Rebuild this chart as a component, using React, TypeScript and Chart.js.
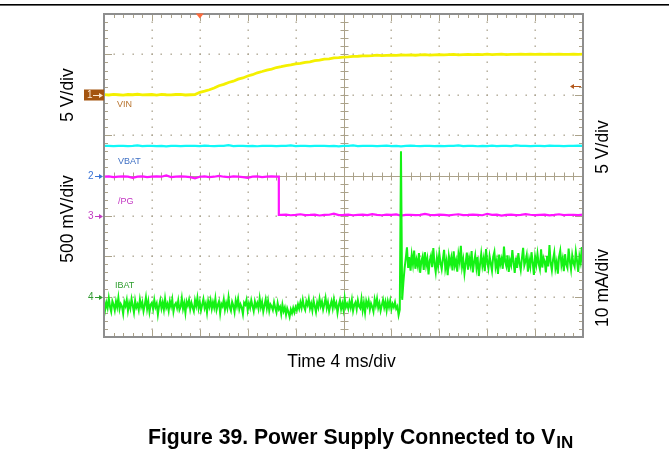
import { useEffect, useRef } from "react";
import { Chart, registerables } from "chart.js";

Chart.register(...registerables);

// ---- Time base: 4 ms/div, 10 divisions, trigger at 2nd division ----
const TIME_MIN_MS = -8;
const TIME_MAX_MS = 32;
const X_DIVS = 10;
const Y_DIVS = 8;

// ---- Channel settings (graticule offset in divisions, units per division) ----
const CH_VIN = { offsetDiv: 6, perDiv: 5 }; // 5 V/div
const CH_VBAT = { offsetDiv: 4, perDiv: 5 }; // 5 V/div
const CH_PG = { offsetDiv: 3, perDiv: 0.5 }; // 500 mV/div
const CH_IBAT = { offsetDiv: 1, perDiv: 10 }; // 10 mA/div
const TRIGGER_LEVEL_V = 1.05;

// ---- VIN (V), sampled every 0.4 ms from -8 ms ----
const VIN_START_MS = -8;
const VIN_DT_MS = 0.4;
const vinVolts = [
  0.02, -0.03, 0.05, 0, -0.04, 0.03, 0, 0.06, -0.02, 0, 0.03, -0.05, 0.04, 0, -0.02, 0.03, 0.05, -0.03, 0, 0.02,
  0.3,
  0.45, 0.62, 0.83, 1.12, 1.28, 1.52, 1.68, 1.93, 2.08, 2.32, 2.48, 2.72, 2.88, 3.06, 3.18, 3.37, 3.48, 3.62,
  3.69, 3.82, 3.88, 4.02, 4.08, 4.22, 4.28, 4.41, 4.44, 4.56, 4.59, 4.66, 4.69, 4.76, 4.77, 4.81, 4.82,
  4.85, 4.9, 4.84, 4.88, 4.9, 4.87, 4.92, 4.9, 4.94, 4.89,
  4.93, 4.96, 4.91, 4.95, 4.97, 4.93, 4.96, 4.99, 4.94, 4.98,
  5.0, 4.96, 5.0, 4.97, 5.02, 4.98, 5.0, 5.03, 4.98, 5.01,
  5.0, 5.04, 4.99, 5.02, 5.0, 5.03, 4.99, 5.02, 5.0, 5.04,
  5.01, 4.99, 5.03, 5.0, 5.02,
];

// ---- VBAT (V), sampled every 0.4 ms from -8 ms ----
const VBAT_START_MS = -8;
const VBAT_DT_MS = 0.4;
const vbatVolts = [
  3.66, 3.68, 3.64, 3.66, 3.67, 3.65, 3.66, 3.74, 3.65, 3.66,
  3.67, 3.64, 3.66, 3.6, 3.66, 3.68, 3.65, 3.66, 3.67, 3.66,
  3.64, 3.7, 3.66, 3.65, 3.67, 3.66, 3.75, 3.64, 3.66, 3.68,
  3.65, 3.66, 3.62, 3.66, 3.68, 3.66, 3.65, 3.67, 3.66, 3.73,
  3.65, 3.66, 3.68, 3.64, 3.66, 3.67, 3.66, 3.65, 3.66, 3.6,
  3.67, 3.66, 3.72, 3.65, 3.66, 3.67, 3.66, 3.64, 3.66, 3.69,
  3.65, 3.66, 3.61, 3.66, 3.7, 3.66, 3.65, 3.67, 3.66, 3.65,
  3.68, 3.64, 3.66, 3.67, 3.73, 3.65, 3.66, 3.68, 3.62, 3.66,
  3.65, 3.69, 3.64, 3.66, 3.67, 3.65, 3.74, 3.66, 3.67, 3.65,
  3.68, 3.66, 3.64, 3.69, 3.66, 3.67, 3.65, 3.66, 3.66, 3.7,
  3.66,
];

// ---- /PG (V): high until the edge, low afterwards ----
const PG_DT_MS = 0.4;
const PG_HIGH_START_MS = -8;
const PG_EDGE_MS = 6.6;
const PG_LOW_START_MS = 6.8;
const pgHighVolts = [
  0.485, 0.49, 0.48, 0.485, 0.49, 0.485, 0.47, 0.485, 0.49, 0.48,
  0.485, 0.49, 0.485, 0.5, 0.48, 0.485, 0.49, 0.485, 0.48, 0.465,
  0.485, 0.49, 0.48, 0.485, 0.495, 0.485, 0.48, 0.49, 0.485, 0.48,
  0.47, 0.485, 0.49, 0.48, 0.485, 0.49, 0.485,
];
const pgLowVolts = [
  0.012, 0.015, 0.008, 0.012, 0.02, 0.01, 0.012, 0.016, 0.005, 0.012,
  0.014, 0.028, 0.01, 0.012, 0.016, 0.008, 0.012, 0.015, 0.01, 0.022,
  0.012, 0.008, 0.016, 0.012, 0.018, 0.004, 0.012, 0.014, 0.01, 0.012,
  0.024, 0.012, 0.009, 0.015, 0.012, 0.006, 0.014, 0.02, 0.01, 0.012,
  0.016, 0.012, 0.008, 0.026, 0.012, 0.015, 0.004, 0.012, 0.016, 0.01,
  0.012, 0.022, 0.014, 0.009, 0.012, 0.016, 0.006, 0.012, 0.02, 0.01,
  0.014, 0.012, 0.01, 0.016,
];

// ---- IBAT (mA), sampled every 0.1 ms ----
const IBAT_DT_MS = 0.1;
const IBAT_PRE_START_MS = -8;
const ibatPreMilliamps = [
  -0.9, -3.2, -1.5, -2.8, -0.4, -2.5, -3.7, -1.1, -2.0, -3.4,
  -1.2, -2.6, -0.3, -3.1, -1.8, -2.4, -4.2, -1.3, -2.3, -0.8,
  -3.5, -1.6, -2.9, -0.6, -2.2, -3.9, -1.0, -2.7, -1.9, -3.3,
  -0.7, -2.5, -1.4, -3.6, -2.1, -0.2, -3.0, -1.2, -3.8, -2.0,
  -1.5, -3.1, -0.8, -2.6, -1.7, -4.4, -2.3, -0.9, -2.9, -1.4,
  -3.2, -0.5, -2.7, -1.8, -3.5, -1.1, -2.4, -0.7, -3.7, -2.1,
  -1.6, -2.8, -1.0, -3.3, -2.5, -0.4, -3.0, -1.6, -4.0, -1.2,
  -2.2, -0.8, -3.1, -1.5, -2.6, -3.6, -0.9, -2.3, -0.3, -2.9,
  -1.3, -3.4, -2.0, -0.6, -2.8, -1.7, -3.9, -1.1, -2.5, -0.9,
  -3.0, -1.4, -2.7, -0.5, -3.3, -2.1, -1.2, -4.1, -1.8, -2.4,
  -0.7, -3.2, -1.6, -2.9, -0.2, -2.6, -3.5, -1.3, -2.2, -3.8,
  -1.0, -2.4, -0.6, -3.1, -1.9, -2.7, -4.3, -1.5, -2.0, -0.8,
  -3.4, -1.7, -2.8, -0.9, -2.3, -3.6, -1.2, -2.5, -1.6, -3.0,
  -0.4, -2.6, -1.3, -3.7, -2.2, -0.7, -2.9, -1.1, -3.5, -1.9,
  -2.4, -3.3, -1.4, -2.8, -3.9, -1.6, -3.1, -2.5, -4.3, -2.0,
  -3.6, -2.7, -4.5, -2.9, -3.8, -5.0, -3.2, -4.1, -2.8, -3.9,
  -2.6, -3.4, -1.9, -3.0, -1.4, -2.8, -0.8, -2.5, -3.3, -1.2,
  -2.1, -0.6, -2.9, -1.7, -3.4, -1.0, -2.4, -3.8, -1.5, -2.7,
  -0.5, -2.3, -1.2, -3.2, -1.9, -0.3, -2.8, -1.4, -3.6, -2.2,
  -1.1, -2.9, -0.7, -2.5, -1.6, -4.0, -2.1, -0.9, -3.1, -1.7,
  -3.3, -0.4, -2.6, -1.8, -3.0, -1.3, -2.7, -0.8, -3.5, -2.0,
  -1.4, -3.1, -0.9, -2.4, -2.9, -0.6, -3.4, -1.5, -3.9, -1.1,
  -2.3, -1.0, -3.2, -1.7, -2.5, -3.7, -0.7, -2.2, -0.5, -2.8,
  -1.6, -3.5, -2.1, -0.8, -2.7, -1.3, -3.4, -1.2, -2.6, -1.0,
  -3.1, -1.8, -2.6, -1.4, -3.0,
];
const IBAT_EDGE_START_MS = 16.5;
const ibatEdgeMilliamps = [-2.4, -4.6, -3.2, 36.0, -0.8, 3.5, 7.0, 9.5];
const IBAT_POST_START_MS = 17.3;
const ibatPostMilliamps = [
  12.2, 7.1, 9.8, 6.4, 10.3, 8.0, 11.4, 6.9, 9.1, 7.6,
  10.8, 5.9, 8.7, 9.9, 6.6, 11.0, 7.8, 9.4, 5.5, 8.9,
  10.1, 7.3, 12.0, 8.2, 6.1, 9.6, 7.5, 10.7, 8.4, 6.8,
  9.3, 11.6, 7.0, 8.8, 5.3, 10.0, 8.1, 9.7, 6.5, 11.2,
  7.7, 9.0, 6.2, 10.5, 8.6, 12.6, 7.4, 9.2, 5.8, 8.3,
  10.9, 6.7, 9.5, 7.9, 11.3, 6.0, 8.5, 10.2, 7.2, 9.8,
  5.1, 8.0, 10.6, 7.6, 9.4, 6.3, 11.8, 8.7, 7.0, 10.0,
  8.2, 6.4, 9.9, 11.1, 7.3, 8.9, 5.6, 10.4, 8.0, 9.3,
  6.9, 12.4, 8.6, 7.5, 10.2, 6.1, 9.0, 7.8, 11.5, 8.4,
  5.9, 9.7, 7.1, 10.8, 8.3, 6.6, 9.5, 12.1, 7.7, 8.8,
  10.3, 6.2, 9.1, 7.4, 11.0, 8.5, 5.4, 9.8, 7.9, 10.6,
  8.1, 6.8, 11.7, 7.2, 9.6, 8.7, 6.0, 10.1, 7.5, 12.8,
  8.4, 6.5, 9.2, 10.9, 7.0, 8.6, 5.7, 9.9, 11.4, 7.8,
  9.4, 6.3, 10.5, 8.0, 7.1, 11.9, 8.8, 6.7, 10.2, 8.3,
  7.4, 11.1, 8.9, 6.1, 10.0, 8.5, 12.3, 7.6,
];

// ---- Text ----
const LEFT_LABEL_TOP = "5 V/div";
const LEFT_LABEL_BOTTOM = "500 mV/div";
const RIGHT_LABEL_TOP = "5 V/div";
const RIGHT_LABEL_BOTTOM = "10 mA/div";
const X_LABEL = "Time 4 ms/div";
const CAPTION_MAIN = "Figure 39. Power Supply Connected to V";
const CAPTION_SUB = "IN";

const FONT = '"Liberation Sans", Arial, Helvetica, sans-serif';

type Ch = { offsetDiv: number; perDiv: number };
function toPoints(values: number[], startMs: number, dtMs: number, ch: Ch) {
  return values.map((v, i) => ({ x: startMs + i * dtMs, y: ch.offsetDiv + v / ch.perDiv }));
}

const graticulePlugin = {
  id: "graticule",
  beforeDatasetsDraw(chart: any) {
    const { ctx, chartArea: a } = chart;
    const w = a.right - a.left;
    const h = a.bottom - a.top;
    const xAt = (d: number) => a.left + (w * d) / X_DIVS;
    const yAt = (d: number) => a.bottom - (h * d) / Y_DIVS;
    ctx.save();
    // dotted grid
    ctx.fillStyle = "#aaa38e";
    for (let i = 1; i < X_DIVS; i++) {
      if (i === X_DIVS / 2) continue;
      const x = Math.round(xAt(i));
      for (let j = 1; j < Y_DIVS * 5; j++) {
        const y = Math.round(yAt(j / 5));
        ctx.fillRect(x - 0.5, y - 0.5, 1.4, 1.4);
      }
    }
    for (let j = 1; j < Y_DIVS; j++) {
      if (j === Y_DIVS / 2) continue;
      const y = Math.round(yAt(j));
      for (let i = 1; i < X_DIVS * 5; i++) {
        const x = Math.round(xAt(i / 5));
        ctx.fillRect(x - 0.5, y - 0.5, 1.4, 1.4);
      }
    }
    // center lines with ticks
    ctx.strokeStyle = "#aba28a";
    ctx.lineWidth = 1;
    const cx = Math.round(xAt(X_DIVS / 2)) + 0.5;
    const cy = Math.round(yAt(Y_DIVS / 2)) + 0.5;
    ctx.beginPath();
    ctx.moveTo(cx, a.top);
    ctx.lineTo(cx, a.bottom);
    ctx.moveTo(a.left, cy);
    ctx.lineTo(a.right, cy);
    for (let j = 1; j < Y_DIVS * 5; j++) {
      const y = Math.round(yAt(j / 5)) + 0.5;
      ctx.moveTo(cx - 4, y);
      ctx.lineTo(cx + 4, y);
    }
    for (let i = 1; i < X_DIVS * 5; i++) {
      const x = Math.round(xAt(i / 5)) + 0.5;
      ctx.moveTo(x, cy - 4);
      ctx.lineTo(x, cy + 4);
    }
    // border ticks
    for (let i = 1; i < X_DIVS * 5; i++) {
      const x = Math.round(xAt(i / 5)) + 0.5;
      const len = i % 5 === 0 ? 7 : 4;
      ctx.moveTo(x, a.top);
      ctx.lineTo(x, a.top + len);
      ctx.moveTo(x, a.bottom);
      ctx.lineTo(x, a.bottom - len);
    }
    for (let j = 1; j < Y_DIVS * 5; j++) {
      const y = Math.round(yAt(j / 5)) + 0.5;
      const len = j % 5 === 0 ? 8 : 4;
      ctx.moveTo(a.left, y);
      ctx.lineTo(a.left + len, y);
      ctx.moveTo(a.right, y);
      ctx.lineTo(a.right - len, y);
    }
    ctx.stroke();
    ctx.restore();
  },
  afterDatasetsDraw(chart: any) {
    const { ctx, chartArea: a } = chart;
    ctx.save();
    ctx.strokeStyle = "#8e8e8e";
    ctx.lineWidth = 2;
    ctx.strokeRect(a.left, a.top, a.right - a.left, a.bottom - a.top);
    ctx.restore();
  },
};

function arrowRight(ctx: any, x0: number, x1: number, y: number, color: string) {
  ctx.strokeStyle = color;
  ctx.fillStyle = color;
  ctx.lineWidth = 1;
  ctx.beginPath();
  ctx.moveTo(x0, y + 0.5);
  ctx.lineTo(x1 - 3, y + 0.5);
  ctx.stroke();
  ctx.beginPath();
  ctx.moveTo(x1, y + 0.5);
  ctx.lineTo(x1 - 4, y - 2);
  ctx.lineTo(x1 - 4, y + 3);
  ctx.closePath();
  ctx.fill();
}

const annotationsPlugin = {
  id: "scopeText",
  afterDraw(chart: any) {
    const { ctx, chartArea: a } = chart;
    const xs = chart.scales.x;
    const ys = chart.scales.y;
    ctx.save();
    // top rule
    ctx.fillStyle = "#000";
    ctx.fillRect(0, 4, chart.width, 1.6);

    // trigger position marker
    const tx = xs.getPixelForValue(0);
    ctx.fillStyle = "#ff6a3a";
    ctx.beginPath();
    ctx.moveTo(tx - 4, a.top - 0.5);
    ctx.lineTo(tx + 4, a.top - 0.5);
    ctx.lineTo(tx, a.top + 4.5);
    ctx.closePath();
    ctx.fill();

    // trigger level marker (right)
    const ty = Math.round(ys.getPixelForValue(CH_VIN.offsetDiv + TRIGGER_LEVEL_V / CH_VIN.perDiv));
    ctx.strokeStyle = "#b4581c";
    ctx.fillStyle = "#b4581c";
    ctx.lineWidth = 1;
    ctx.beginPath();
    ctx.moveTo(a.right - 12, ty + 0.5);
    ctx.lineTo(a.right - 2, ty + 0.5);
    ctx.stroke();
    ctx.beginPath();
    ctx.moveTo(a.right - 13, ty + 0.5);
    ctx.lineTo(a.right - 9, ty - 2);
    ctx.lineTo(a.right - 9, ty + 3);
    ctx.closePath();
    ctx.fill();

    // channel markers
    ctx.font = `10px ${FONT}`;
    ctx.textBaseline = "middle";
    ctx.textAlign = "left";
    const y1 = Math.round(ys.getPixelForValue(CH_VIN.offsetDiv));
    ctx.fillStyle = "#a4540f";
    ctx.fillRect(84, y1 - 5.5, a.left - 84, 11);
    ctx.fillStyle = "#fbe6cf";
    ctx.fillText("1", 87, y1 + 0.5);
    arrowRight(ctx, 93, a.left - 1, y1, "#fbe6cf");

    const marks: [string, Ch, string][] = [
      ["2", CH_VBAT, "#3b74d6"],
      ["3", CH_PG, "#c23cc2"],
      ["4", CH_IBAT, "#2f9a2f"],
    ];
    for (const [label, ch, color] of marks) {
      const y = Math.round(ys.getPixelForValue(ch.offsetDiv));
      ctx.fillStyle = color;
      ctx.fillText(label, 88, y + 0.5);
      arrowRight(ctx, 95, a.left - 1, y, color);
    }

    // trace names
    ctx.font = `9px ${FONT}`;
    ctx.fillStyle = "#b8742f";
    ctx.fillText("VIN", 117, 105);
    ctx.fillStyle = "#3f70c4";
    ctx.fillText("VBAT", 118, 162);
    ctx.fillStyle = "#c234c2";
    ctx.fillText("/PG", 118, 202);
    ctx.fillStyle = "#2e9e2e";
    ctx.fillText("IBAT", 115, 286);

    // axis labels
    ctx.fillStyle = "#000";
    ctx.font = `17.5px ${FONT}`;
    const vtext = (t: string, x: number, y: number) => {
      ctx.save();
      ctx.translate(x, y);
      ctx.rotate(-Math.PI / 2);
      ctx.textAlign = "center";
      ctx.textBaseline = "middle";
      ctx.fillText(t, 0, 0);
      ctx.restore();
    };
    vtext(LEFT_LABEL_TOP, 68, 95);
    vtext(LEFT_LABEL_BOTTOM, 68, 219);
    vtext(RIGHT_LABEL_TOP, 603, 147);
    vtext(RIGHT_LABEL_BOTTOM, 603, 288);
    ctx.textAlign = "center";
    ctx.textBaseline = "middle";
    ctx.fillText(X_LABEL, (a.left + a.right) / 2 - 2, 362);

    // caption
    ctx.textAlign = "left";
    ctx.textBaseline = "alphabetic";
    ctx.font = `bold 21.2px ${FONT}`;
    const cx0 = 148;
    ctx.fillText(CAPTION_MAIN, cx0, 444);
    const wMain = ctx.measureText(CAPTION_MAIN).width;
    ctx.font = `bold 17px ${FONT}`;
    ctx.fillText(CAPTION_SUB, cx0 + wMain + 1, 448);
    ctx.restore();
  },
};

export default function App() {
  const ref = useRef<HTMLCanvasElement | null>(null);
  useEffect(() => {
    if (!ref.current) return;
    const vinData = toPoints(vinVolts, VIN_START_MS, VIN_DT_MS, CH_VIN);
    const vbatData = toPoints(vbatVolts, VBAT_START_MS, VBAT_DT_MS, CH_VBAT);
    const pgData = [
      ...toPoints(pgHighVolts, PG_HIGH_START_MS, PG_DT_MS, CH_PG),
      { x: PG_EDGE_MS, y: CH_PG.offsetDiv + pgHighVolts[pgHighVolts.length - 1] / CH_PG.perDiv },
      { x: PG_EDGE_MS, y: CH_PG.offsetDiv + pgLowVolts[0] / CH_PG.perDiv },
      ...toPoints(pgLowVolts, PG_LOW_START_MS, PG_DT_MS, CH_PG),
    ];
    const ibatData = [
      ...toPoints(ibatPreMilliamps, IBAT_PRE_START_MS, IBAT_DT_MS, CH_IBAT),
      ...toPoints(ibatEdgeMilliamps, IBAT_EDGE_START_MS, IBAT_DT_MS, CH_IBAT),
      ...toPoints(ibatPostMilliamps, IBAT_POST_START_MS, IBAT_DT_MS, CH_IBAT),
    ];
    const common = { pointRadius: 0, tension: 0, fill: false, borderJoinStyle: "miter" as const };
    const chart = new Chart(ref.current, {
      type: "line",
      data: {
        datasets: [
          { label: "IBAT", data: ibatData, borderColor: "#14f214", borderWidth: 2, ...common },
          { label: "/PG", data: pgData, borderColor: "#ff14ff", borderWidth: 2.2, ...common },
          { label: "VBAT", data: vbatData, borderColor: "#10f8f8", borderWidth: 2.2, ...common },
          { label: "VIN", data: vinData, borderColor: "#f4f000", borderWidth: 2.8, ...common },
        ],
      },
      options: {
        animation: false,
        responsive: false,
        events: [],
        layout: { padding: { left: 104, right: 86, top: 14, bottom: 124 } },
        scales: {
          x: { type: "linear", min: TIME_MIN_MS, max: TIME_MAX_MS, display: false },
          y: { type: "linear", min: 0, max: Y_DIVS, display: false },
        },
        plugins: { legend: { display: false }, tooltip: { enabled: false }, title: { display: false } },
      },
      plugins: [graticulePlugin, annotationsPlugin],
    });
    return () => chart.destroy();
  }, []);
  return (
    <div style={{ position: "absolute", left: 0, top: 0, width: 669, height: 461, background: "#fff" }}>
      <canvas ref={ref} width={669} height={461} style={{ display: "block", width: 669, height: 461 }} />
    </div>
  );
}
